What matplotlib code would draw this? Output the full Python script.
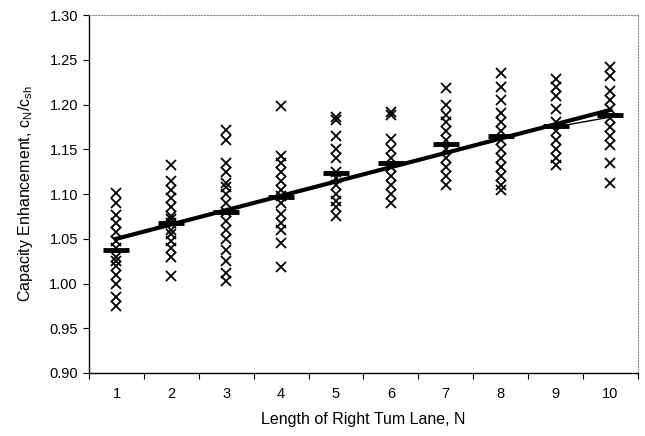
import matplotlib
matplotlib.use("Agg")
import matplotlib.pyplot as plt

plt.rcParams['font.family'] = ['Liberation Sans', 'DejaVu Sans']

categories = [1, 2, 3, 4, 5, 6, 7, 8, 9, 10]
observed = [
    [1.101, 1.090, 1.077, 1.068, 1.058, 1.048, 1.040, 1.030, 1.025, 1.020, 1.010, 1.000, 0.985, 0.975],
    [1.132, 1.115, 1.105, 1.095, 1.085, 1.075, 1.072, 1.068, 1.060, 1.055, 1.048, 1.040, 1.030, 1.008],
    [1.172, 1.160, 1.135, 1.125, 1.112, 1.108, 1.100, 1.090, 1.080, 1.070, 1.060, 1.050, 1.038, 1.025, 1.012, 1.003],
    [1.198, 1.142, 1.135, 1.125, 1.115, 1.105, 1.098, 1.090, 1.078, 1.068, 1.060, 1.045, 1.018],
    [1.186, 1.183, 1.165, 1.150, 1.140, 1.125, 1.118, 1.110, 1.100, 1.092, 1.085, 1.075],
    [1.192, 1.188, 1.162, 1.150, 1.140, 1.130, 1.120, 1.110, 1.100, 1.090],
    [1.218, 1.200, 1.188, 1.180, 1.170, 1.160, 1.150, 1.140, 1.130, 1.120, 1.110],
    [1.235, 1.220, 1.205, 1.190, 1.180, 1.170, 1.160, 1.150, 1.140, 1.130, 1.120, 1.110, 1.105],
    [1.228, 1.220, 1.210, 1.195, 1.180, 1.170, 1.160, 1.150, 1.140, 1.132],
    [1.242, 1.232, 1.215, 1.205, 1.195, 1.185, 1.175, 1.165, 1.155, 1.135, 1.112],
]
means = [1.038, 1.068, 1.080, 1.097, 1.123, 1.135, 1.156, 1.165, 1.176, 1.188]
model = [1.050, 1.066, 1.082, 1.098, 1.114, 1.130, 1.146, 1.162, 1.178, 1.194]
thin_x = [9, 10]
thin_y = [1.175, 1.186]

yticks = [0.90, 0.95, 1.00, 1.05, 1.10, 1.15, 1.20, 1.25, 1.30]

fig = plt.figure(figsize=(6.45, 4.36), dpi=100)
ax = fig.add_axes([0.138, 0.1445, 0.851, 0.821])

for c, vals in zip(categories, observed):
    ax.plot([c] * len(vals), vals, linestyle='none', marker='x', color='black',
            markersize=6.5, markeredgewidth=1.3, zorder=3)

ax.plot(categories, means, linestyle='none', marker='_', color='black',
        markersize=19, markeredgewidth=3.5, zorder=4)
ax.plot(categories, model, color='black', linewidth=3, zorder=5)
ax.plot(thin_x, thin_y, color='black', linewidth=1, zorder=5)

ax.set_xlim(0.5, 10.5)
ax.set_ylim(0.90, 1.30)
ax.set_yticks(yticks)
ax.set_yticklabels([f"{v:.2f}" for v in yticks], fontsize=10.5)
ax.set_xticks(categories)
ax.set_xticklabels([str(c) for c in categories], fontsize=10.5)
ax.tick_params(axis='x', length=0, pad=10)
ax.set_xticks([c + 0.5 for c in [0] + categories], minor=True)
ax.tick_params(axis='x', which='minor', length=4, direction='out', width=0.8)
ax.tick_params(axis='y', length=4, direction='out', width=0.8, pad=4)

for s in ['left', 'bottom']:
    ax.spines[s].set_color('black')
    ax.spines[s].set_linewidth(1.0)
for s in ['top', 'right']:
    ax.spines[s].set_color('#888888')
    ax.spines[s].set_linewidth(0.8)
    ax.spines[s].set_linestyle(':')

ax.set_xlabel("Length of Right Tum Lane, N", fontsize=11.5, labelpad=8)
ax.set_ylabel("Capacity Enhancement, $\\mathregular{c_N/c_{sh}}$", fontsize=11.5, labelpad=10)

fig.savefig("out.png", dpi=100)
